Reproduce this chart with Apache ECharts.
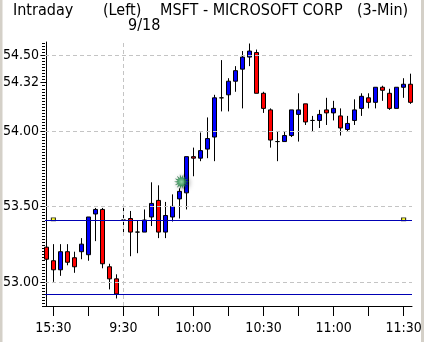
<!DOCTYPE html>
<html>
<head>
<meta charset="utf-8">
<script src="https://cdn.jsdelivr.net/npm/echarts@6/dist/echarts.min.js"></script>
<style>
html,body{margin:0;padding:0;background:#fff;}
#c{width:424px;height:342px;}
</style>
</head>
<body>
<div id="c"></div>
<script>
// ---- data ----
const tickIdx = [1, 6, 11, 16, 21, 26, 31, 36, 41, 46, 51];
const labelIdx = [1, 11, 21, 31, 41, 51];
const tickLabels = ['15:30', '9:30', '10:00', '10:30', '11:00', '11:30'];
const yLabelValues = [53.00, 53.50, 54.00, 54.32, 54.50];
const gridValues = [53.00, 53.50, 54.00, 54.50];
const refLines = [53.414, 52.925];
const dayBreak = [11];

const openV  = [53.23,53.14,53.08,53.20,53.16,53.20,53.18,53.45,53.48,53.10,53.02,53.41,53.42,53.33,53.33,53.43,53.54,53.33,53.43,53.55,53.59,53.83,53.82,53.88,53.96,54.22,54.24,54.33,54.41,54.49,54.52,54.25,54.14,53.93,53.93,53.97,54.11,54.18,54.07,54.07,54.14,54.12,54.10,54.01,54.07,54.15,54.22,54.19,54.29,54.25,54.15,54.29,54.31];
const closeV = [53.15,53.08,53.20,53.13,53.10,53.25,53.43,53.48,53.12,53.02,52.92,53.41,53.33,53.33,53.41,53.52,53.33,53.44,53.50,53.60,53.83,53.82,53.87,53.95,54.22,54.22,54.33,54.40,54.49,54.53,54.25,54.15,53.94,53.93,53.97,54.14,54.14,54.06,54.07,54.11,54.12,54.15,54.02,54.05,54.14,54.23,54.19,54.29,54.27,54.15,54.29,54.31,54.19];
const lowV   = [53.14,53.00,53.04,53.11,53.06,53.15,53.14,53.27,53.09,52.95,52.89,53.32,53.17,53.19,53.33,53.37,53.29,53.29,53.40,53.42,53.48,53.70,53.80,53.82,53.80,54.13,54.13,54.26,54.15,54.43,54.25,54.12,53.89,53.80,53.93,53.96,53.93,54.04,54.00,54.02,54.04,54.07,53.97,54.00,54.04,54.10,54.15,54.15,54.20,54.14,54.15,54.22,54.18];
const highV  = [53.28,53.25,53.25,53.25,53.20,53.29,53.43,53.49,53.49,53.12,53.05,53.49,53.47,53.41,53.48,53.66,53.64,53.53,53.58,53.62,53.83,53.89,53.99,54.09,54.24,54.47,54.35,54.43,54.53,54.58,54.54,54.26,54.15,54.00,54.00,54.14,54.25,54.18,54.10,54.14,54.22,54.20,54.15,54.10,54.21,54.25,54.25,54.29,54.30,54.28,54.29,54.35,54.38];
const flagPoints = [[1, 53.414], [51, 53.414]];
const sparkPoint = [[19.3, 53.663]];

// ---- font selection (narrow font preferred) ----
const cv = document.createElement('canvas').getContext('2d');
function w(font, s) { cv.font = font; return cv.measureText(s).width; }
function has(name) {
  const s = 'abcdefghijklmMSFT0123456789';
  return w('40px "' + name + '", monospace', s) !== w('40px monospace', s) ||
         w('40px "' + name + '", serif', s) !== w('40px serif', s);
}
const candidates = ['Liberation Sans Narrow', 'DejaVu Sans Condensed', 'Arial Narrow', 'Roboto Condensed', 'Liberation Sans'];
let FAM = 'sans-serif';
for (const c of candidates) { if (has(c)) { FAM = '"' + c + '"'; break; } }
let FS = 17 * 36 / w('17px ' + FAM, '54.50');
FS = Math.max(12, Math.min(18, FS));
FS = Math.round(FS * 2) / 2;
let FT = 17 * 180 / w('17px ' + FAM, 'MSFT - MICROSOFT CORP');
FT = Math.max(12, Math.min(18, FT));
FT = Math.round(FT * 2) / 2;

// ---- build ----
const candleData = openV.map((o, i) => [i, o, closeV[i], lowV[i], highV[i]]);
const FONT = FAM + ', sans-serif';
const yMin = 52.84, yMax = 54.59;
const minorTicks = [];
for (let k = Math.ceil(yMin / 0.02); k * 0.02 <= yMax; k++) minorTicks.push(+(k * 0.02).toFixed(2));

let pts = [];
const N = 14;
for (let i = 0; i < N * 2; i++) {
  const r = i % 2 === 0 ? 50 : 26;
  const a = Math.PI * i / N;
  pts.push((50 + r * Math.cos(a)).toFixed(1) + ' ' + (50 + r * Math.sin(a)).toFixed(1));
}
const burst = 'path://M' + pts.join(' L') + ' Z';

const chart = echarts.init(document.getElementById('c'), null, {renderer: 'canvas'});
const txt = (t, x, y) => ({type: 'text', x: x, y: y, style: {text: t, fill: '#000', font: FT + 'px ' + FONT, verticalAlign: 'middle'}});
chart.setOption({
  animation: false,
  backgroundColor: '#fff',
  graphic: [
    {type: 'rect', shape: {x: 0, y: 0, width: 2.5, height: 342}, style: {fill: '#d4d0c8'}},
    {type: 'rect', shape: {x: 421, y: 0, width: 3, height: 342}, style: {fill: '#d4d0c8'}},
    txt('Intraday', 13, 11),
    txt('(Left)', 103, 11),
    txt('MSFT - MICROSOFT CORP', 160, 11),
    txt('(3-Min)', 357, 11),
    txt('9/18', 128, 26)
  ],
  grid: {left: 45, right: 12, top: 42, bottom: 36, containLabel: false, outerBoundsMode: 'none'},
  xAxis: {
    type: 'value', min: -0.2, max: 52.2,
    axisLine: {show: true, lineStyle: {color: '#000', width: 1}},
    axisTick: {show: true, length: 10, lineStyle: {color: '#000'}, customValues: tickIdx},
    axisLabel: {show: true, customValues: labelIdx, margin: 15, color: '#000', fontSize: FS, fontFamily: FONT,
      formatter: v => { const i = labelIdx.indexOf(Math.round(v)); return i >= 0 ? tickLabels[i] : ''; }},
    splitLine: {show: false}
  },
  yAxis: [
    {
      type: 'value', min: yMin, max: yMax, position: 'left',
      axisLine: {show: true, lineStyle: {color: '#000'}},
      axisTick: {show: true, length: 6, lineStyle: {color: '#000'}, customValues: yLabelValues},
      axisLabel: {show: true, customValues: yLabelValues, margin: 6, color: '#000', fontSize: FS, fontFamily: FONT,
        formatter: v => v.toFixed(2)},
      splitLine: {show: false}
    },
    {
      type: 'value', min: yMin, max: yMax, position: 'left', offset: 0,
      axisLine: {show: false},
      axisTick: {show: true, length: 3, lineStyle: {color: '#000'}, customValues: minorTicks},
      axisLabel: {show: false},
      splitLine: {show: false}
    }
  ],
  series: [
    {
      type: 'candlestick',
      data: candleData,
      encode: {x: 0, y: [1, 2, 3, 4]},
      barWidth: 4,
      itemStyle: {color: '#0000ff', color0: '#ff0000', borderColor: '#000', borderColor0: '#000', borderWidth: 1},
      markLine: {
        silent: true, symbol: 'none', label: {show: false}, animation: false,
        data: [
          ...gridValues.map(v => ({yAxis: v, lineStyle: {color: '#c4c4c4', type: [4, 3], width: 1}})),
          ...dayBreak.map(v => ({xAxis: v, lineStyle: {color: '#c4c4c4', type: [4, 3], width: 1}})),
          ...refLines.map(v => ({yAxis: v, lineStyle: {color: '#0000b4', type: 'solid', width: 1}}))
        ]
      },
      z: 2
    },
    {
      type: 'scatter', data: flagPoints, symbol: 'rect', symbolSize: [4, 3],
      itemStyle: {color: '#ffff00', borderColor: '#000', borderWidth: 1}, z: 3, silent: true
    },
    {
      type: 'scatter', data: sparkPoint, symbol: burst, symbolSize: 15,
      itemStyle: {
        color: {type: 'radial', x: 0.5, y: 0.5, r: 0.5, colorStops: [{offset: 0, color: '#8ee0a8'}, {offset: 0.5, color: '#2a9050'}, {offset: 1, color: '#0a5a28'}]},
        shadowColor: 'rgba(0,0,0,0.6)', shadowBlur: 5, shadowOffsetX: 2, shadowOffsetY: 1
      },
      z: 4, silent: true
    }
  ]
});
</script>
</body>
</html>
